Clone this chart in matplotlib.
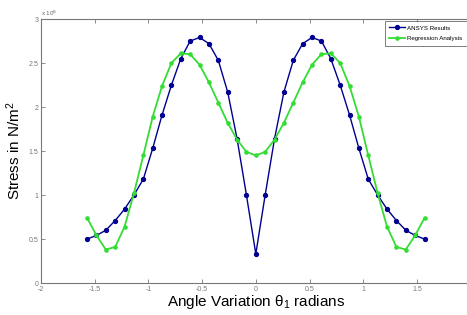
import numpy as np
import matplotlib
matplotlib.use("Agg")
import matplotlib.pyplot as plt

plt.rcParams['font.family'] = ['Liberation Sans', 'DejaVu Sans']

angles_deg = list(range(-90, 91, 5))
ansys_half = [0.50, 0.54, 0.60, 0.71, 0.84, 1.00, 1.18, 1.53, 1.91, 2.25,
              2.55, 2.75, 2.79, 2.72, 2.53, 2.17, 1.64, 1.00, 0.33]
regression_half = [0.74, 0.54, 0.38, 0.41, 0.64, 1.02, 1.45, 1.89, 2.24, 2.50,
                   2.61, 2.60, 2.48, 2.28, 2.05, 1.82, 1.63, 1.49, 1.45]
ansys = ansys_half + ansys_half[-2::-1]
regression = regression_half + regression_half[-2::-1]
x = np.deg2rad(angles_deg)

xticks = [-2, -1.5, -1, -0.5, 0, 0.5, 1, 1.5, 2]
xticklabels = ['-2', '-1.5', '-1', '-0.5', '0', '0.5', '1', '1.5', '']
yticks = [0, 0.5, 1, 1.5, 2, 2.5, 3]
yticklabels = ['0', '0.5', '1', '1.5', '2', '2.5', '3']

fig = plt.figure(figsize=(4.67, 3.15), dpi=100)
ax = fig.add_axes([41/467, 32/315, 429.6/467, 264/315])

ax.plot(x, ansys, '-o', color='#000090', lw=1.0, ms=2.8, label='ANSYS Results')
ax.plot(x, regression, '-o', color='#33dd33', lw=1.3, ms=2.3, label='Regression Analysis')

ax.set_xlim(-2, 2)
ax.set_ylim(0, 3)
ax.set_xticks(xticks)
ax.set_xticklabels(xticklabels)
ax.set_yticks(yticks)
ax.set_yticklabels(yticklabels)
ax.tick_params(direction='in', length=3, width=0.6, labelsize=5, colors='#777777',
               top=True, right=True, pad=2)
for s in ax.spines.values():
    s.set_color('#777777')
    s.set_linewidth(0.8)

ax.text(0.0, 1.005, r'x 10$^8$', transform=ax.transAxes, fontsize=4.5, color='#666666',
        ha='left', va='bottom')

ax.set_xlabel(r'Angle Variation $\mathregular{\theta_1}$ radians', fontsize=11, labelpad=0)
ax.set_ylabel(r'Stress in N/m$\mathregular{^2}$', fontsize=11, labelpad=4)

leg = ax.legend(loc='upper right', bbox_to_anchor=(1.0, 1 - 21/315),
                bbox_transform=fig.transFigure,
                fontsize=4.4, frameon=True, fancybox=False, edgecolor='#444444',
                handlelength=2.6, handletextpad=0.4, borderpad=0.7, labelspacing=0.9,
                borderaxespad=0)
leg.get_frame().set_linewidth(0.6)

fig.savefig('out.png', dpi=100)
